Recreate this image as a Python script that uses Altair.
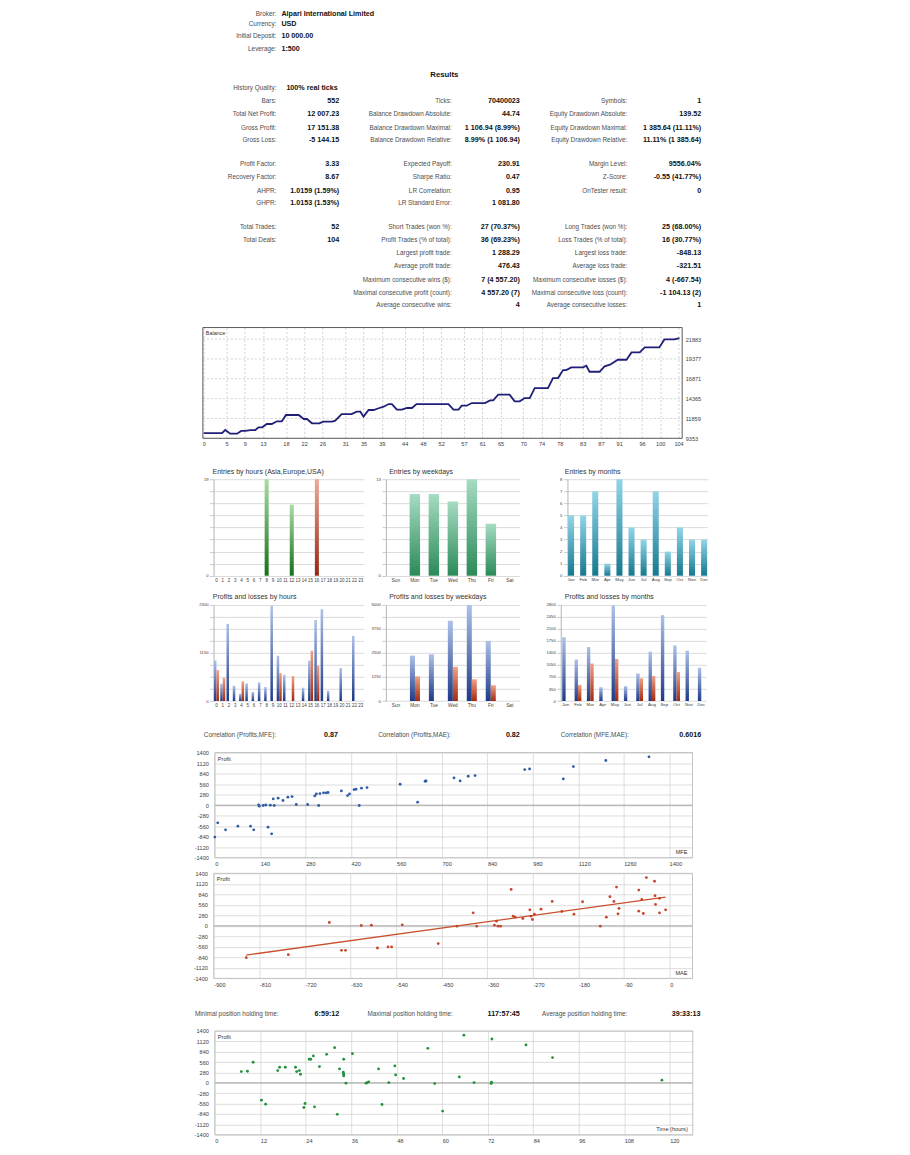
import altair as alt
import pandas as pd

FONT = "Liberation Sans"
LABEL_C = "#4d4d4d"
VALUE_C = "#111111"
AXIS_C = "#3c3c3c"
GRID_C = "#d6d6d6"

# ------------------------------------------------------------------ data
HEADER_LABELS = ["Broker:", "Currency:", "Initial Deposit:", "Leverage:"]
HEADER_VALUES = ["Alpari International Limited", "USD", "10 000.00", "1:500"]
RESULTS_TITLE = "Results"

C1_LABELS = ["History Quality:", "Bars:", "Total Net Profit:", "Gross Profit:", "Gross Loss:",
             "Profit Factor:", "Recovery Factor:", "AHPR:", "GHPR:",
             "Total Trades:", "Total Deals:", "", "", "", "", ""]
C1_VALUES = ["100% real ticks", "552", "12 007.23", "17 151.38", "-5 144.15",
             "3.33", "8.67", "1.0159 (1.59%)", "1.0153 (1.53%)",
             "52", "104", "", "", "", "", ""]
C2_LABELS = ["", "Ticks:", "Balance Drawdown Absolute:", "Balance Drawdown Maximal:", "Balance Drawdown Relative:",
             "Expected Payoff:", "Sharpe Ratio:", "LR Correlation:", "LR Standard Error:",
             "Short Trades (won %):", "Profit Trades (% of total):", "Largest profit trade:",
             "Average profit trade:", "Maximum consecutive wins ($):",
             "Maximal consecutive profit (count):", "Average consecutive wins:"]
C2_VALUES = ["", "70400023", "44.74", "1 106.94 (8.99%)", "8.99% (1 106.94)",
             "230.91", "0.47", "0.95", "1 081.80",
             "27 (70.37%)", "36 (69.23%)", "1 288.29", "476.43", "7 (4 557.20)",
             "4 557.20 (7)", "4"]
C3_LABELS = ["", "Symbols:", "Equity Drawdown Absolute:", "Equity Drawdown Maximal:", "Equity Drawdown Relative:",
             "Margin Level:", "Z-Score:", "OnTester result:", "",
             "Long Trades (won %):", "Loss Trades (% of total):", "Largest loss trade:",
             "Average loss trade:", "Maximum consecutive losses ($):",
             "Maximal consecutive loss (count):", "Average consecutive losses:"]
C3_VALUES = ["", "1", "139.52", "1 385.64 (11.11%)", "11.11% (1 385.64)",
             "9556.04%", "-0.55 (41.77%)", "0", "",
             "25 (68.00%)", "16 (30.77%)", "-848.13", "-321.51", "4 (-667.54)",
             "-1 104.13 (2)", "1"]

CORR_LABELS = ["Correlation (Profits,MFE):", "Correlation (Profits,MAE):", "Correlation (MFE,MAE):"]
CORR_VALUES = ["0.87", "0.82", "0.6016"]
HOLD_LABELS = ["Minimal position holding time:", "Maximal position holding time:", "Average position holding time:"]
HOLD_VALUES = ["6:59:12", "117:57:45", "39:33:13"]

BAL_DEAL = [0, 4.0, 4.7, 5.8, 7.3, 8.2, 9.1, 10.2, 11.3, 12.0, 12.8, 13.8, 14.9, 16.0, 17.1, 18.0,
            20.8, 21.9, 22.6, 23.7, 25.3, 26.2, 28.1, 28.8, 30.2, 32.4, 33.5, 34.3, 35.0, 36.1,
            37.2, 38.3, 39.4, 40.5, 41.2, 42.3, 43.4, 44.5, 45.6, 46.6, 53.6, 54.7, 55.8, 56.5,
            57.6, 58.7, 61.6, 62.7, 63.4, 64.5, 67.0, 68.1, 69.2, 70.3, 71.4, 72.5, 75.4, 76.5,
            77.6, 78.7, 79.4, 80.5, 83.1, 83.8, 84.5, 86.7, 87.8, 89.0, 90.7, 92.6, 93.7, 95.5,
            96.6, 99.8, 100.9, 103.1, 104.2]
BAL_VALUE = [10000, 10000, 10400, 9940, 9940, 10280, 10280, 10400, 10400, 10740, 10740, 11160, 11160,
             11500, 11500, 12300, 12300, 11790, 11790, 11250, 11250, 11460, 11460, 11580, 12420,
             12420, 12720, 12720, 12090, 12930, 12930, 13150, 13350, 13680, 13680, 12970, 12970,
             13180, 13180, 13680, 13680, 12970, 12970, 13470, 13470, 13810, 13810, 14150, 14150,
             14860, 14860, 14020, 14020, 14440, 14440, 15700, 15700, 16960, 16960, 17970, 17970,
             18310, 18310, 18520, 17760, 17760, 18440, 18650, 19280, 19280, 20200, 20200, 20830,
             20830, 21840, 21840, 22007]
BAL_TICKS_X = [0, 5, 9, 13, 18, 22, 26, 31, 35, 39, 44, 48, 52, 57, 61, 65, 70, 74, 78, 83, 87,
               91, 96, 100, 104]
BAL_TICKS_Y = [9353, 11859, 14365, 16871, 19377, 21883]

HOURS = list(range(24))
SESSIONS = ["Asia"] * 8 + ["Europe"] * 8 + ["USA"] * 8
ENTRIES_BY_HOUR = [0, 0, 0, 0, 0, 0, 0, 0, 19, 0, 0, 0, 14, 0, 0, 0, 19, 0, 0, 0, 0, 0, 0, 0]
WEEKDAYS = ["Sun", "Mon", "Tue", "Wed", "Thu", "Fri", "Sat"]
ENTRIES_BY_WEEKDAY = [0, 11, 11, 10, 13, 7, 0]
MONTHS = ["Jan", "Feb", "Mar", "Apr", "May", "Jun", "Jul", "Aug", "Sep", "Oct", "Nov", "Dec"]
ENTRIES_BY_MONTH = [5, 5, 7, 1, 8, 4, 3, 7, 2, 4, 3, 3]

PROFIT_BY_HOUR = [971, 414, 1847, 366, 175, 422, 215, 446, 334, 2277, 1083, 629, 0, 0, 318, 963,
                  1942, 2197, 247, 0, 788, 0, 1560, 0]
LOSS_BY_HOUR = [740, 557, 0, 0, 470, 0, 0, 0, 0, 0, 669, 0, 597, 0, 0, 1202, 852, 0, 0, 0, 0, 0, 0, 0]
PROFIT_BY_WEEKDAY = [0, 2363, 2431, 4178, 4990, 3133, 0]
LOSS_BY_WEEKDAY = [0, 1284, 0, 1781, 1130, 822, 0]
PROFIT_BY_MONTH = [1860, 1208, 1573, 403, 2790, 432, 805, 1438, 2503, 1620, 1467, 968]
LOSS_BY_MONTH = [0, 470, 1093, 0, 1227, 0, 662, 729, 0, 844, 0, 0]

MFE_VALUES = [0, 9, 33, 71, 110, 120, 135, 137, 149, 157, 164, 171, 175, 180, 183, 195, 210, 225,
              238, 251, 286, 308, 313, 320, 324, 335, 343, 349, 390, 409, 415, 429, 435, 445, 452,
              469, 571, 625, 648, 651, 737, 756, 781, 802, 955, 970, 1074, 1105, 1205, 1338]
MFE_PROFITS = [-848, -470, -656, -558, -558, -656, 10, -27, -9, 5, -585, 0, -762, 168, -9, 186,
               124, 213, 230, 18, 18, 248, 301, -9, 310, 328, 328, 337, 381, 257, 301, 416, 425,
               -9, 452, 470, 558, 80, 638, 645, 726, 647, 771, 789, 948, 966, 700, 1028, 1190, 1288]

MAE_VALUES = [-836, -753, -672, -648, -640, -609, -589, -577, -556, -549, -528, -457, -420, -388,
              -381, -346, -342, -339, -334, -313, -309, -305, -290, -276, -274, -271, -267, -254,
              -232, -213, -189, -172, -137, -125, -118, -110, -105, -102, -100, -61, -61, -55,
              -52, -46, -30, -29, -28, -20, -20, -8]
MAE_PROFITS = [-848, -767, 89, -651, -651, 9, 18, -589, -562, -562, 27, -473, -9, 348, -9, 18,
               125, -9, -9, 972, 259, 232, 196, 428, 259, 169, 312, 446, 651, 383, 312, 642, -9,
               232, 776, 651, 1034, 321, 464, 954, 392, 704, 330, 1288, 1190, 803, 571, 731, 348, 428]

HOLD_HOURS = [6.99, 8.6, 10.1, 12.3, 13.4, 16.6, 17.1, 18.6, 21.3, 21.6, 22.3, 22.6, 23.5, 23.8,
              24.9, 25.3, 26.0, 26.3, 27.6, 29.5, 31.6, 32.3, 32.9, 33.9, 34.0, 34.0, 34.0, 34.6,
              36.3, 39.9, 40.2, 40.6, 43.2, 44.1, 45.9, 47.5, 47.7, 49.8, 56.2, 58.0, 60.1, 64.5,
              65.7, 68.4, 72.9, 73.0, 73.1, 82.1, 89.1, 117.96]
HOLD_PROFITS = [305, 314, 556, -466, -574, 332, 422, 422, 422, 305, 332, 233, -664, -556, 637, 637,
                727, -646, 440, 771, 951, -848, 377, 287, 188, 233, 637, -9, 789, -9, 9, 27, 377,
                -583, 9, 457, 215, 117, 933, -18, -762, 161, 1288, 9, -18, 18, 1184, 1023, 682, 72]

SC_Y_TICKS = [-1400, -1120, -840, -560, -280, 0, 280, 560, 840, 1120, 1400]
MFE_TICKS = [0, 140, 280, 420, 560, 700, 840, 980, 1120, 1260, 1400]
MAE_TICKS = [-900, -810, -720, -630, -540, -450, -360, -270, -180, -90, 0]
HOLD_TICKS = [0, 12, 24, 36, 48, 60, 72, 84, 96, 108, 120]

# ------------------------------------------------------------------ layout (page px)
X0 = 8
W = 894
HDR_LABEL_X, HDR_VALUE_X = 276, 281
HDR_ROW_Y = [14, 23.3, 36, 49.3]
RESULTS_XY = (444.3, 75)
TAB_ROW_Y = [88.3, 101, 114.3, 127.7, 140.3, 164, 177.3, 190.7, 203.3, 227.3, 240.3, 253.7,
             266.7, 280, 293.3, 305.7]
TAB_COLS = [(276, 339), (451.7, 520), (627.7, 701.7)]
HQ_VALUE_X = 286
CORR_LABEL_X, CORR_VALUE_X, CORR_Y = [203.3, 378, 561], [337.7, 520, 701.7], 734.3
HOLD_LABEL_X, HOLD_VALUE_X, HOLD_Y = [194.3, 367.3, 542.3], [339, 520, 701], 1013.3

ONE = pd.DataFrame({"a": [0]})
LBL, VAL = 6.4, 7.2


def tdf(items, top):
    items = [it for it in items if it[0]]
    return pd.DataFrame({"t": [i[0] for i in items],
                         "px": [i[1] - X0 for i in items],
                         "py": [i[2] - top for i in items]})


def txt(df, align, size, bold, color):
    return alt.Chart(df).mark_text(align=align, baseline="middle", font=FONT, fontSize=size,
                                   fontWeight="bold" if bold else "normal", color=color).encode(
        x=alt.X("px:Q", scale=None, axis=None),
        y=alt.Y("py:Q", scale=None, axis=None),
        text="t:N")


def label(text, x, y, align="left", size=5.6, color="#333333"):
    return alt.Chart(ONE).mark_text(text=text, align=align, baseline="middle", font=FONT,
                                    fontSize=size, color=color).encode(x=alt.value(x), y=alt.value(y))


def spacer(h):
    return alt.Chart(ONE).mark_point(size=0, opacity=0).encode(
        x=alt.value(W / 2), y=alt.value(h / 2)).properties(width=W, height=h)


# ---- text block 1 (origin of this block sits 2px below the page margin)
T1_TOP = 10
hdr_l = tdf([(HEADER_LABELS[i], HDR_LABEL_X, HDR_ROW_Y[i]) for i in range(4)], T1_TOP)
hdr_v = tdf([(HEADER_VALUES[i], HDR_VALUE_X, HDR_ROW_Y[i]) for i in range(4)], T1_TOP)
res_t = tdf([(RESULTS_TITLE, RESULTS_XY[0], RESULTS_XY[1])], T1_TOP)
tab_l, tab_vr, tab_vl = [], [], []
for ci, (labels, values, (lx, vx)) in enumerate(zip([C1_LABELS, C2_LABELS, C3_LABELS],
                                                     [C1_VALUES, C2_VALUES, C3_VALUES], TAB_COLS)):
    for r, y in enumerate(TAB_ROW_Y):
        tab_l.append((labels[r], lx, y))
        if ci == 0 and r == 0:
            tab_vl.append((values[r], HQ_VALUE_X, y))
        else:
            tab_vr.append((values[r], vx, y))
text1 = alt.layer(
    txt(hdr_l, "right", LBL, False, LABEL_C),
    txt(hdr_v, "left", VAL, True, VALUE_C),
    txt(res_t, "center", 7.8, True, VALUE_C),
    txt(tdf(tab_l, T1_TOP), "right", LBL, False, LABEL_C),
    txt(tdf(tab_vr, T1_TOP), "right", VAL, True, VALUE_C),
    txt(tdf(tab_vl, T1_TOP), "left", VAL, True, VALUE_C),
).properties(width=W, height=318)

T2_TOP = 701.3
text2 = alt.layer(
    txt(tdf([(CORR_LABELS[i], CORR_LABEL_X[i], CORR_Y) for i in range(3)], T2_TOP), "left", LBL, False, LABEL_C),
    txt(tdf([(CORR_VALUES[i], CORR_VALUE_X[i], CORR_Y) for i in range(3)], T2_TOP), "right", VAL, True, VALUE_C),
).properties(width=W, height=51)

T3_TOP = 978
text3 = alt.layer(
    txt(tdf([(HOLD_LABELS[i], HOLD_LABEL_X[i], HOLD_Y) for i in range(3)], T3_TOP), "left", LBL, False, LABEL_C),
    txt(tdf([(HOLD_VALUES[i], HOLD_VALUE_X[i], HOLD_Y) for i in range(3)], T3_TOP), "right", VAL, True, VALUE_C),
).properties(width=W, height=52)

# ---- balance chart (row-local x range)
BAL_L, BAL_R = 202.3 - X0, 682.7 - X0
BAL_XDOM = [-0.2, 104.8]
BAL_YDOM = [9353, 23345]
bx = alt.X("deal:Q", scale=alt.Scale(domain=BAL_XDOM, range=[BAL_L, BAL_R], nice=False, zero=False),
           axis=alt.Axis(orient="bottom", values=BAL_TICKS_X, grid=True, gridDash=[2, 2],
                         gridColor="#c6c6c6", gridWidth=0.8, domain=False, ticks=False,
                         labelFontSize=5.6, labelColor=AXIS_C, labelPadding=3, labelFlush=False,
                         labelOverlap=False, labelExpr="'' + datum.value", title=None))
by = alt.Y("balance:Q", scale=alt.Scale(domain=BAL_YDOM, nice=False, zero=False),
           axis=alt.Axis(orient="right", offset=BAL_R - W, values=BAL_TICKS_Y, grid=False,
                         domain=False, ticks=False, labelFontSize=5.6, labelColor=AXIS_C,
                         labelPadding=3, labelFlush=False, labelOverlap=False,
                         labelExpr="'' + datum.value", title=None))
bal_df = pd.DataFrame({"deal": BAL_DEAL, "balance": BAL_VALUE})
bal_grid = pd.DataFrame({"balance": BAL_TICKS_Y, "deal": [BAL_XDOM[0]] * 6, "deal2": [BAL_XDOM[1]] * 6})
bal_frame = pd.DataFrame({"deal": [BAL_XDOM[0]], "deal2": [BAL_XDOM[1]],
                          "balance": [BAL_YDOM[0]], "balance2": [BAL_YDOM[1]]})
balance = alt.layer(
    alt.Chart(bal_grid).mark_rule(color="#c6c6c6", strokeWidth=0.8, strokeDash=[2, 2]).encode(
        x=bx, x2=alt.X2("deal2"), y=by),
    alt.Chart(bal_frame).mark_rect(fillOpacity=0, stroke="#5a5a5a", strokeWidth=1).encode(
        x=bx, x2=alt.X2("deal2"), y=by, y2=alt.Y2("balance2")),
    alt.Chart(bal_df).mark_line(color="#1f1f78", strokeWidth=1.8).encode(x=bx, y=by),
    label("Balance", BAL_L + 3, 5, size=5.4),
).properties(width=W, height=111)


# ---- bar panels
def grad(top, bottom):
    return alt.LinearGradient(gradient="linear",
                              stops=[alt.GradientStop(color=top, offset=0),
                                     alt.GradientStop(color=bottom, offset=1)],
                              x1=0, x2=0, y1=0, y2=1)


G_ASIA = grad("#a9c3e8", "#1e4a9a")
G_EUROPE = grad("#a9dca3", "#15701a")
G_USA = grad("#eeaa98", "#962512")
G_WEEK = grad("#a6dcc2", "#2a8a58")
G_MONTH = grad("#93d5e8", "#15788f")
G_PROFIT = grad("#adc1e8", "#1d3a88")
G_LOSS = grad("#f0a286", "#a32a10")


def yaxis_bars(maxv, step, left):
    vals = [maxv * k / 8 for k in range(9)]
    expr = ("abs(datum.value/%s - round(datum.value/%s)) < 0.001 ? format(datum.value, 'd') : ''"
            % (step, step))
    return alt.Axis(orient="left", offset=-left, values=vals, labelExpr=expr, grid=True,
                    gridColor="#d2d2d2", gridWidth=0.8, domainColor="#b4b4b4", tickColor="#cccccc",
                    tickSize=4, labelFontSize=4.2, labelColor=AXIS_C, labelPadding=1.5,
                    labelOverlap=False, labelFlush=False, title=None)


def xaxis_bars(fs):
    return alt.Axis(orient="bottom", labelAngle=0, domain=False, ticks=False, labelFontSize=fs,
                    labelColor=AXIS_C, labelPadding=1.5, labelOverlap=False, title=None)


def band_x(field, cats, rng, pin, pout, fs):
    return alt.X(field, sort=cats,
                 scale=alt.Scale(domain=cats, range=rng, paddingInner=pin, paddingOuter=pout),
                 axis=xaxis_bars(fs))


E_TOP = 479.3
E_H = 96.7
EP = [(213.0 - X0, 363.5 - X0), (385.7 - X0, 520.0 - X0), (567.7 - X0, 708.3 - X0)]

eh_df = pd.DataFrame({"hour": HOURS, "n": ENTRIES_BY_HOUR, "session": SESSIONS})
ehx = band_x("hour:O", HOURS, list(EP[0]), 0.36, 0.14, 4.5)
ehy = alt.Y("n:Q", scale=alt.Scale(domain=[0, 19], nice=False), axis=yaxis_bars(19, 19, EP[0][0]))
entries_hours = alt.layer(*[
    alt.Chart(eh_df).transform_filter("datum.session == '%s' && datum.n > 0" % s)
    .mark_bar(fill=g).encode(x=ehx, y=ehy)
    for s, g in [("Asia", G_ASIA), ("Europe", G_EUROPE), ("USA", G_USA)]
])

ew_df = pd.DataFrame({"day": WEEKDAYS, "n": ENTRIES_BY_WEEKDAY})
entries_week = alt.Chart(ew_df).transform_filter("datum.n > 0").mark_bar(fill=G_WEEK).encode(
    x=band_x("day:N", WEEKDAYS, list(EP[1]), 0.45, 0.25, 4.8),
    y=alt.Y("n:Q", scale=alt.Scale(domain=[0, 13], nice=False), axis=yaxis_bars(13, 13, EP[1][0])),
)

em_df = pd.DataFrame({"month": MONTHS, "n": ENTRIES_BY_MONTH})
entries_month = alt.Chart(em_df).mark_bar(fill=G_MONTH).encode(
    x=band_x("month:N", MONTHS, list(EP[2]), 0.5, 0.05, 4.4),
    y=alt.Y("n:Q", scale=alt.Scale(domain=[0, 8], nice=False), axis=yaxis_bars(8, 1, EP[2][0])),
)

entries_row = alt.layer(
    entries_hours, entries_week, entries_month,
    label("Entries by hours (Asia,Europe,USA)", 212 - X0, 472.3 - E_TOP, size=7),
    label("Entries by weekdays", 389 - X0, 472.3 - E_TOP, size=7),
    label("Entries by months", 565 - X0, 472.3 - E_TOP, size=7),
).resolve_scale(x="independent", y="independent").properties(width=W, height=E_H)


def pl_frame(cats, profit, loss, name):
    rows = []
    for c, p, l in zip(cats, profit, loss):
        rows.append({name: c, "kind": "Profit", "value": p})
        rows.append({name: c, "kind": "Loss", "value": l})
    return pd.DataFrame(rows)


def pl_panel(df, field, cats, ymax, step, pin, pout, fs, rng):
    x = band_x(field, cats, list(rng), pin, pout, fs)
    xo = alt.XOffset("kind:N", scale=alt.Scale(domain=["Profit", "Loss"], paddingInner=0, paddingOuter=0))
    y = alt.Y("value:Q", scale=alt.Scale(domain=[0, ymax], nice=False), axis=yaxis_bars(ymax, step, rng[0]))
    return alt.layer(
        alt.Chart(df).transform_filter("datum.kind == 'Profit' && datum.value > 0")
        .mark_bar(fill=G_PROFIT).encode(x=x, xOffset=xo, y=y),
        alt.Chart(df).transform_filter("datum.kind == 'Loss' && datum.value > 0")
        .mark_bar(fill=G_LOSS).encode(x=x, xOffset=xo, y=y),
    )


P_TOP = 605
P_H = 96.3
PP = [(213.0 - X0, 363.5 - X0), (385.7 - X0, 520.0 - X0), (561.0 - X0, 706.7 - X0)]
pl_row = alt.layer(
    pl_panel(pl_frame(HOURS, PROFIT_BY_HOUR, LOSS_BY_HOUR, "hour"), "hour:O", HOURS,
             2300, 1150, 0.2, 0.065, 4.5, PP[0]),
    pl_panel(pl_frame(WEEKDAYS, PROFIT_BY_WEEKDAY, LOSS_BY_WEEKDAY, "day"), "day:N", WEEKDAYS,
             5000, 1250, 0.47, 0.27, 4.8, PP[1]),
    pl_panel(pl_frame(MONTHS, PROFIT_BY_MONTH, LOSS_BY_MONTH, "month"), "month:N", MONTHS,
             2800, 350, 0.45, 0.12, 4.4, PP[2]),
    label("Profits and losses by hours", 212.3 - X0, 597.3 - P_TOP, size=7),
    label("Profits and losses by weekdays", 389 - X0, 597.3 - P_TOP, size=7),
    label("Profits and losses by months", 565 - X0, 597.3 - P_TOP, size=7),
).resolve_scale(x="independent", y="independent", xOffset="independent").properties(width=W, height=P_H)


# ---- scatter panels
def scatter_row(df, xfield, xdom, xticks, color, left, right, height, corner, reg=False):
    x = alt.X("%s:Q" % xfield, scale=alt.Scale(domain=xdom, range=[left, right], nice=False, zero=False),
              axis=alt.Axis(orient="bottom", values=xticks, grid=True, gridColor=GRID_C, gridWidth=0.8,
                            domain=False, ticks=False, labelAlign="left", labelBaseline="top",
                            labelPadding=4, labelFontSize=5.6, labelColor=AXIS_C, labelFlush=False,
                            labelOverlap=False, labelExpr="'' + datum.value", title=None))
    y = alt.Y("profit:Q", scale=alt.Scale(domain=[-1400, 1400], nice=False, zero=False),
              axis=alt.Axis(orient="left", offset=-left, values=SC_Y_TICKS, grid=True, gridColor=GRID_C,
                            gridWidth=0.8, domain=False, ticks=False, labelPadding=6.5,
                            labelFontSize=5.6, labelColor=AXIS_C, labelFlush=False,
                            labelOverlap=False, labelExpr="'' + datum.value", title=None))
    zero_df = pd.DataFrame({xfield: [xdom[0]], "x2": [xdom[1]], "profit": [0]})
    frame_df = pd.DataFrame({xfield: [xdom[0]], "x2": [xdom[1]], "profit": [-1400], "y2": [1400]})
    layers = [
        alt.Chart(zero_df).mark_rule(color="#a3a3a3", strokeWidth=1).encode(x=x, x2=alt.X2("x2"), y=y),
        alt.Chart(frame_df).mark_rect(fillOpacity=0, stroke="#c2c2c2", strokeWidth=1).encode(
            x=x, x2=alt.X2("x2"), y=y, y2=alt.Y2("y2")),
    ]
    if reg:
        layers.append(alt.Chart(df).transform_regression(xfield, "profit")
                      .mark_line(color="#c9502e", strokeWidth=1.3).encode(x=x, y=y))
    layers.append(alt.Chart(df).mark_circle(size=8, color=color, opacity=1).encode(x=x, y=y))
    layers.append(label("Profit", left + 3, 6))
    layers.append(label(corner, right - 5, height - 5.5, align="right"))
    return alt.layer(*layers).properties(width=W, height=height)


mfe_df = pd.DataFrame({"mfe": MFE_VALUES, "profit": MFE_PROFITS})
mae_df = pd.DataFrame({"mae": MAE_VALUES, "profit": MAE_PROFITS})
hold_df = pd.DataFrame({"hours": HOLD_HOURS, "profit": HOLD_PROFITS})
mfe_chart = scatter_row(mfe_df, "mfe", [0, 1472], MFE_TICKS, "#2f5ca6", 214.3 - X0, 693 - X0, 105.4, "MFE")
mae_chart = scatter_row(mae_df, "mae", [-900, 45], MAE_TICKS, "#c8452a", 213.3 - X0, 693 - X0, 105.3,
                        "MAE", reg=True)
hold_chart = scatter_row(hold_df, "hours", [0, 126.1], HOLD_TICKS, "#23903a", 214.3 - X0, 693.3 - X0, 104,
                         "Time (hours)")

# ------------------------------------------------------------------ assemble
chart = alt.vconcat(
    text1, balance, spacer(40.3), entries_row, spacer(29), pl_row, text2,
    mfe_chart, spacer(15), mae_chart, text3, hold_chart,
    spacing=0, bounds="flush",
).properties(padding=0).configure(font=FONT).configure_view(stroke="transparent").configure_axis(
    labelFont=FONT)

chart.save("out.html", embed_options={"renderer": "svg", "actions": False})
